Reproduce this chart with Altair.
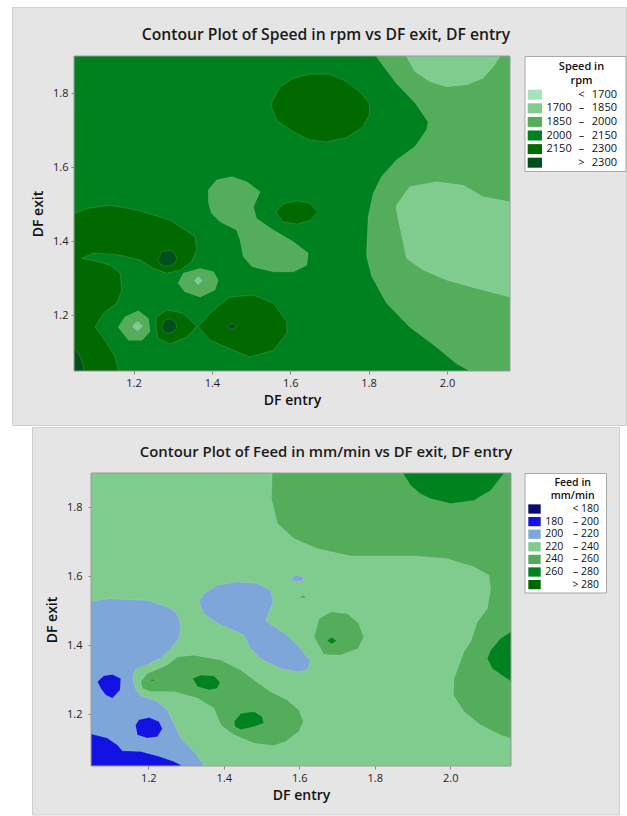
import altair as alt
import pandas as pd

FONT = "Open Sans"
X_TICKS = [1.2, 1.4, 1.6, 1.8, 2.0]
Y_TICKS = [1.2, 1.4, 1.6, 1.8]
X_DOMAIN = [1.048, 2.161]
Y_DOMAIN = [1.049, 1.900]
X0 = X_DOMAIN[0]
DASH = "–"

# ---------------- Speed in rpm ----------------
speed_breaks = [1700, 1850, 2000, 2150, 2300]
speed_colors = ["#a6e3b9", "#80cb8e", "#53ad5a", "#00811f", "#006a00", "#004f1c"]


def band_names(breaks):
    names = [f"< {breaks[0]}"]
    names += [f"{a} {DASH} {b}" for a, b in zip(breaks[:-1], breaks[1:])]
    names.append(f"> {breaks[-1]}")
    return names


speed_levels = band_names(speed_breaks)
S = speed_levels

# contour bands: (band, paint depth, DF entry vertices, DF exit vertices)
speed_regions = [
    (S[3], 0, [X0, 2.20, 2.20, X0], [1.00, 1.00, 1.95, 1.95]),
    (S[2], 1,
     [1.820, 1.820, 1.871, 1.920, 1.952, 1.948, 1.918, 1.871, 1.833, 1.812, 1.799, 1.795, 1.795,
      1.808, 1.846, 1.905, 1.973, 2.024, 2.058, 2.075, 2.20, 2.20],
     [1.95, 1.898, 1.826, 1.772, 1.722, 1.700, 1.655, 1.619, 1.574, 1.529, 1.466, 1.376, 1.358,
      1.304, 1.232, 1.168, 1.114, 1.069, 1.049, 1.00, 1.00, 1.95]),
    (S[4], 1,
     [1.553, 1.574, 1.608, 1.650, 1.701, 1.744, 1.782, 1.802, 1.802, 1.786, 1.744, 1.693, 1.650, 1.608, 1.565, 1.553],
     [1.776, 1.817, 1.840, 1.851, 1.851, 1.831, 1.799, 1.772, 1.741, 1.709, 1.680, 1.668, 1.673, 1.695, 1.727, 1.759]),
    (S[4], 1,
     [1.563, 1.581, 1.617, 1.650, 1.670, 1.650, 1.617, 1.581],
     [1.478, 1.500, 1.509, 1.503, 1.478, 1.455, 1.446, 1.452]),
    (S[2], 1,
     [1.391, 1.412, 1.451, 1.489, 1.523, 1.506, 1.514, 1.557, 1.608, 1.646, 1.642, 1.608, 1.557, 1.502,
      1.480, 1.472, 1.463, 1.421, 1.399, 1.391],
     [1.538, 1.565, 1.574, 1.560, 1.533, 1.493, 1.461, 1.430, 1.398, 1.367, 1.335, 1.317, 1.317, 1.331,
      1.358, 1.403, 1.430, 1.452, 1.475, 1.506]),
    (S[4], 1,
     [X0, 1.051, 1.081, 1.140, 1.208, 1.293, 1.357, 1.361, 1.348, 1.319, 1.285, 1.251, 1.217, 1.166,
      1.097, 1.068, 1.102, 1.140, 1.166, 1.170, 1.157, 1.123, 1.102, 1.132, 1.153, 1.161, 1.163, X0],
     [1.478, 1.475, 1.488, 1.497, 1.484, 1.457, 1.412, 1.376, 1.344, 1.322, 1.313, 1.326, 1.349, 1.362,
      1.368, 1.353, 1.346, 1.335, 1.313, 1.268, 1.232, 1.205, 1.168, 1.124, 1.087, 1.051, 1.00, 1.00]),
    (S[4], 1,
     [1.257, 1.259, 1.285, 1.327, 1.361, 1.336, 1.293, 1.263],
     [1.168, 1.195, 1.214, 1.205, 1.170, 1.141, 1.122, 1.137]),
    (S[4], 1,
     [1.365, 1.404, 1.446, 1.506, 1.557, 1.591, 1.591, 1.557, 1.497, 1.455, 1.395],
     [1.170, 1.214, 1.249, 1.254, 1.232, 1.182, 1.151, 1.105, 1.087, 1.105, 1.132]),
    (S[2], 1,
     [1.314, 1.327, 1.370, 1.404, 1.416, 1.408, 1.370, 1.331],
     [1.286, 1.313, 1.326, 1.317, 1.295, 1.268, 1.249, 1.263]),
    (S[2], 1,
     [1.161, 1.178, 1.212, 1.238, 1.242, 1.221, 1.187],
     [1.168, 1.195, 1.212, 1.191, 1.155, 1.132, 1.132]),
    (S[1], 2,
     [1.895, 1.897, 1.918, 1.956, 1.999, 2.050, 2.092, 2.118, 2.135, 2.14],
     [1.95, 1.898, 1.858, 1.831, 1.817, 1.822, 1.840, 1.871, 1.898, 1.95]),
    (S[1], 2,
     [2.20, 2.160, 2.092, 2.041, 1.973, 1.905, 1.871, 1.871, 1.880, 1.897, 1.939, 1.999, 2.076, 2.160, 2.20],
     [1.507, 1.506, 1.520, 1.551, 1.560, 1.547, 1.497, 1.484, 1.438, 1.353, 1.322, 1.295, 1.272, 1.249, 1.24]),
    (S[5], 2,
     [1.263, 1.272, 1.293, 1.307, 1.310, 1.300, 1.280, 1.266],
     [1.353, 1.371, 1.376, 1.365, 1.350, 1.335, 1.332, 1.340]),
    (S[5], 2,
     [1.272, 1.280, 1.295, 1.308, 1.310, 1.300, 1.285, 1.275],
     [1.170, 1.186, 1.190, 1.180, 1.165, 1.153, 1.151, 1.158]),
    (S[5], 2, [1.438, 1.451, 1.464, 1.451], [1.170, 1.178, 1.170, 1.162]),
    (S[5], 2,
     [X0, 1.048, 1.056, 1.064, 1.072, 1.075, X0],
     [1.114, 1.114, 1.100, 1.087, 1.060, 1.00, 1.00]),
    (S[1], 2, [1.355, 1.365, 1.375, 1.365], [1.293, 1.304, 1.293, 1.282]),
    (S[1], 2, [1.197, 1.210, 1.223, 1.210], [1.170, 1.183, 1.170, 1.157]),
]

# ---------------- Feed in mm/min ----------------
feed_breaks = [180, 200, 220, 240, 260, 280]
feed_colors = ["#0b0b70", "#1212e2", "#7fa6d9", "#80cb8e", "#53ad5a", "#00821f", "#006a00"]
feed_levels = band_names(feed_breaks)
F = feed_levels

feed_regions = [
    (F[3], 0, [X0, 2.20, 2.20, X0], [1.00, 1.00, 1.95, 1.95]),
    (F[4], 1,
     [1.528, 1.528, 1.526, 1.542, 1.586, 1.648, 1.736, 1.824, 1.904, 1.992, 2.063, 2.102, 2.107, 2.098,
      2.072, 2.054, 2.036, 2.010, 2.008, 2.036, 2.080, 2.133, 2.162, 2.20, 2.20],
     [1.95, 1.898, 1.825, 1.753, 1.709, 1.680, 1.659, 1.659, 1.659, 1.651, 1.627, 1.603, 1.564, 1.506,
      1.468, 1.410, 1.381, 1.303, 1.255, 1.207, 1.168, 1.139, 1.128, 1.12, 1.95]),
    (F[2], 1,
     [X0, 1.052, 1.100, 1.153, 1.197, 1.224, 1.250, 1.268, 1.280, 1.286, 1.280, 1.259, 1.235, 1.198,
      1.166, 1.158, 1.166, 1.179, 1.224, 1.251, 1.267, 1.286, 1.325, 1.346, 1.36, X0],
     [1.53, 1.528, 1.535, 1.532, 1.530, 1.521, 1.511, 1.501, 1.483, 1.448, 1.419, 1.390, 1.364, 1.344,
      1.330, 1.303, 1.274, 1.254, 1.236, 1.211, 1.173, 1.130, 1.086, 1.052, 1.00, 1.00]),
    (F[2], 1,
     [1.334, 1.347, 1.383, 1.436, 1.489, 1.524, 1.531, 1.511, 1.528, 1.568, 1.603, 1.630, 1.621, 1.595,
      1.550, 1.497, 1.471, 1.453, 1.427, 1.383, 1.347],
     [1.526, 1.550, 1.574, 1.584, 1.579, 1.559, 1.526, 1.472, 1.458, 1.429, 1.390, 1.352, 1.328, 1.323,
      1.332, 1.361, 1.390, 1.429, 1.443, 1.463, 1.492]),
    (F[2], 1, [1.577, 1.590, 1.612, 1.608, 1.586], [1.593, 1.603, 1.598, 1.586, 1.584]),
    (F[4], 1, [1.599, 1.610, 1.621], [1.537, 1.546, 1.537]),
    (F[4], 1,
     [1.639, 1.652, 1.683, 1.727, 1.758, 1.771, 1.756, 1.709, 1.665],
     [1.424, 1.477, 1.497, 1.492, 1.463, 1.424, 1.390, 1.371, 1.373]),
    (F[4], 1,
     [1.180, 1.197, 1.250, 1.277, 1.321, 1.392, 1.445, 1.480, 1.524, 1.568, 1.599, 1.611, 1.599, 1.564,
      1.533, 1.480, 1.427, 1.392, 1.374, 1.330, 1.268, 1.206, 1.184],
     [1.294, 1.318, 1.342, 1.366, 1.371, 1.357, 1.328, 1.299, 1.265, 1.241, 1.212, 1.178, 1.149, 1.120,
      1.108, 1.115, 1.139, 1.168, 1.217, 1.246, 1.265, 1.265, 1.274]),
    (F[5], 2,
     [1.873, 1.875, 1.895, 1.920, 1.948, 2.001, 2.063, 2.107, 2.142, 2.15],
     [1.95, 1.898, 1.864, 1.840, 1.825, 1.811, 1.820, 1.849, 1.898, 1.95]),
    (F[5], 2,
     [2.20, 2.160, 2.133, 2.107, 2.098, 2.111, 2.142, 2.162, 2.20],
     [1.45, 1.439, 1.419, 1.386, 1.361, 1.332, 1.308, 1.294, 1.285]),
    (F[1], 2,
     [X0, 1.052, 1.091, 1.118, 1.131, 1.180, 1.227, 1.268, 1.286, 1.30, X0],
     [1.142, 1.141, 1.130, 1.110, 1.093, 1.091, 1.077, 1.062, 1.052, 1.00, 1.00]),
    (F[1], 2,
     [1.065, 1.082, 1.105, 1.127, 1.125, 1.105, 1.087, 1.074],
     [1.294, 1.311, 1.315, 1.303, 1.270, 1.246, 1.255, 1.274]),
    (F[1], 2,
     [1.166, 1.175, 1.202, 1.228, 1.237, 1.224, 1.197, 1.171],
     [1.168, 1.183, 1.190, 1.178, 1.157, 1.134, 1.130, 1.139]),
    (F[5], 2, [1.673, 1.686, 1.699, 1.686], [1.413, 1.423, 1.413, 1.403]),
    (F[5], 2,
     [1.317, 1.339, 1.374, 1.390, 1.383, 1.361, 1.330],
     [1.303, 1.313, 1.311, 1.292, 1.274, 1.270, 1.279]),
    (F[5], 2,
     [1.427, 1.445, 1.480, 1.502, 1.506, 1.480, 1.445, 1.429],
     [1.178, 1.202, 1.207, 1.192, 1.173, 1.163, 1.154, 1.163]),
    (F[5], 2, [1.201, 1.211, 1.222], [1.297, 1.301, 1.296]),
]


def region_table(regions):
    rows = []
    for pid, (band, depth, xs, ys) in enumerate(regions):
        for i, (x, y) in enumerate(zip(xs, ys)):
            rows.append({"pid": pid, "band": band, "depth": depth, "i": i, "entry": x, "exit": y})
    return pd.DataFrame(rows)


def key_table(breaks, levels):
    # one row per band: lower bound, relation sign, upper bound
    lo = [""] + [str(b) for b in breaks[:-1]] + [""]
    sign = ["<"] + [DASH] * (len(breaks) - 1) + [">"]
    hi = [str(b) for b in breaks] + [str(breaks[-1])]
    return pd.DataFrame({"band": levels, "lo": lo, "sign": sign, "hi": hi, "row": range(len(levels))})


def contour_panel(regions, breaks, levels, colors, title, title_size, key_title, lead, width, height,
                  frame, title_dx, title_offset, key, label_pad_y):
    """lead: pixels between the group's left edge and the plotting area."""
    df = region_table(regions)
    x = alt.X("entry:Q", scale=alt.Scale(domain=X_DOMAIN, range=[lead, lead + width], nice=False, zero=False),
              axis=alt.Axis(values=X_TICKS, format=".1f", title="DF entry", grid=False, domain=False,
                            tickSize=3, tickColor="#8a8a8a", labelPadding=3, labelFont=FONT,
                            labelFontSize=11, labelColor="#1e1e1e", titleFont=FONT, titleFontSize=14,
                            titleFontWeight=600, titleColor="#111111", titlePadding=5, zindex=1))
    y = alt.Y("exit:Q", scale=alt.Scale(domain=Y_DOMAIN, nice=False, zero=False),
              axis=alt.Axis(values=Y_TICKS, format=".1f", title="DF exit", grid=False, domain=False,
                            offset=-lead, tickSize=3, tickColor="#8a8a8a", labelPadding=label_pad_y,
                            labelFont=FONT, labelFontSize=11, labelColor="#1e1e1e", titleFont=FONT,
                            titleFontSize=14, titleFontWeight=600, titleColor="#111111", titlePadding=7,
                            zindex=1))
    color_scale = alt.Scale(domain=levels, range=colors)
    color = alt.Color("band:N", scale=color_scale, legend=None)

    one = pd.DataFrame({"k": [0]})
    fx0, fx1, fy0, fy1 = frame
    backdrop = alt.Chart(one).mark_rect(fill="#e5e5e5", stroke="#cfcfcf", strokeWidth=1).encode(
        x=alt.value(fx0), x2=alt.value(fx1), y=alt.value(fy0), y2=alt.value(fy1))

    layers = [backdrop]
    for d in sorted(df["depth"].unique()):
        layers.append(
            alt.Chart(df[df["depth"] == d]).mark_line(
                filled=True, interpolate="linear-closed", clip=True,
                stroke="white", strokeOpacity=0.22, strokeWidth=0.6
            ).encode(x=x, y=y, color=color, detail="pid:N", order="i:Q")
        )

    # plotting-area frame
    border = alt.Chart(one).mark_rect(filled=False, stroke="#9a9a9a", strokeWidth=1).encode(
        x=alt.value(lead), x2=alt.value(lead + width), y=alt.value(0), y2=alt.value(height))

    # key box with swatches and right-aligned band limits
    kt = key_table(breaks, levels)
    k = {n: (v + lead if n in ("x0", "x1", "tx", "sx0", "sx1", "lo_x", "sg_x", "hi_x") else v)
         for n, v in key.items()}
    box = alt.Chart(one).mark_rect(fill="white", stroke="#a8a8a8", strokeWidth=1).encode(
        x=alt.value(k["x0"]), x2=alt.value(k["x1"]), y=alt.value(k["y0"]), y2=alt.value(k["y1"]))
    head = alt.Chart(one).mark_text(
        text=key_title, font=FONT, fontSize=k["tsize"], fontWeight=600, color="#111111",
        align="center", baseline="alphabetic", lineHeight=k["tline"]
    ).encode(x=alt.value(k["tx"]), y=alt.value(k["ty"]))
    rows = alt.Chart(kt).transform_calculate(
        yc=f"{k['r0']} + datum.row * {k['step']}",
        ya=f"{k['r0']} - {k['sh'] / 2} + datum.row * {k['step']}",
        yb=f"{k['r0']} + {k['sh'] / 2} + datum.row * {k['step']}",
    )
    swatch = rows.mark_rect().encode(
        x=alt.value(k["sx0"]), x2=alt.value(k["sx1"]),
        y=alt.Y("ya:Q", scale=None, axis=None), y2="yb:Q",
        color=color)
    txt = dict(font=FONT, fontSize=k["lsize"], color="#111111", baseline="middle")
    lo_t = rows.mark_text(align="right", **txt).encode(
        x=alt.value(k["lo_x"]), y=alt.Y("yc:Q", scale=None, axis=None), text="lo:N")
    sg_t = rows.mark_text(align="center", **txt).encode(
        x=alt.value(k["sg_x"]), y=alt.Y("yc:Q", scale=None, axis=None), text="sign:N")
    hi_t = rows.mark_text(align="right", **txt).encode(
        x=alt.value(k["hi_x"]), y=alt.Y("yc:Q", scale=None, axis=None), text="hi:N")
    layers += [border, box, head, swatch, lo_t, sg_t, hi_t]

    return alt.layer(*layers).properties(
        width=lead + width, height=height,
        title=alt.TitleParams(title, font=FONT, fontSize=title_size, fontWeight=600, color="#1a1a1a",
                              anchor="middle", frame="group", dx=title_dx, offset=title_offset,
                              baseline="alphabetic"),
    )


speed_key = dict(x0=451, x1=552, y0=0.5, y1=115.5, tx=507.5, ty=14, tsize=11, tline=14,
                 r0=38.7, step=13.6, sh=10, sx0=453.7, sx1=468, lsize=11,
                 lo_x=497.7, sg_x=507.5, hi_x=543)
feed_key = dict(x0=434, x1=515.5, y0=0.5, y1=120, tx=481.7, ty=12.5, tsize=10.5, tline=13.5,
                r0=36, step=12.6, sh=9.3, sx0=437.3, sx1=449.7, lsize=10.5,
                lo_x=472.3, sg_x=484.5, hi_x=508)

speed_chart = contour_panel(
    speed_regions, speed_breaks, speed_levels, speed_colors,
    "Contour Plot of Speed in rpm vs DF exit, DF entry", 15.7, ["Speed in", "rpm"],
    0, 436, 315, (-61.5, 552.5, -48.5, 369.5), 34, -49, speed_key, 3)

# the lower plot starts 17 px further right than the upper one
feed_chart = contour_panel(
    feed_regions, feed_breaks, feed_levels, feed_colors,
    "Contour Plot of Feed in mm/min vs DF exit, DF entry", 14.9, ["Feed in", "mm/min"],
    17, 420, 293, (-41.5, 545.5, -45.5, 342), 33.5, -45, feed_key, 6)

chart = alt.vconcat(speed_chart, feed_chart, spacing=1).resolve_scale(
    color="independent", x="independent", y="independent"
).properties(
    padding={"left": 12, "top": 7, "right": 0, "bottom": 0},
    background="white",
).configure_view(strokeWidth=0)

chart.save("out.html", embed_options={"renderer": "svg", "actions": False})
